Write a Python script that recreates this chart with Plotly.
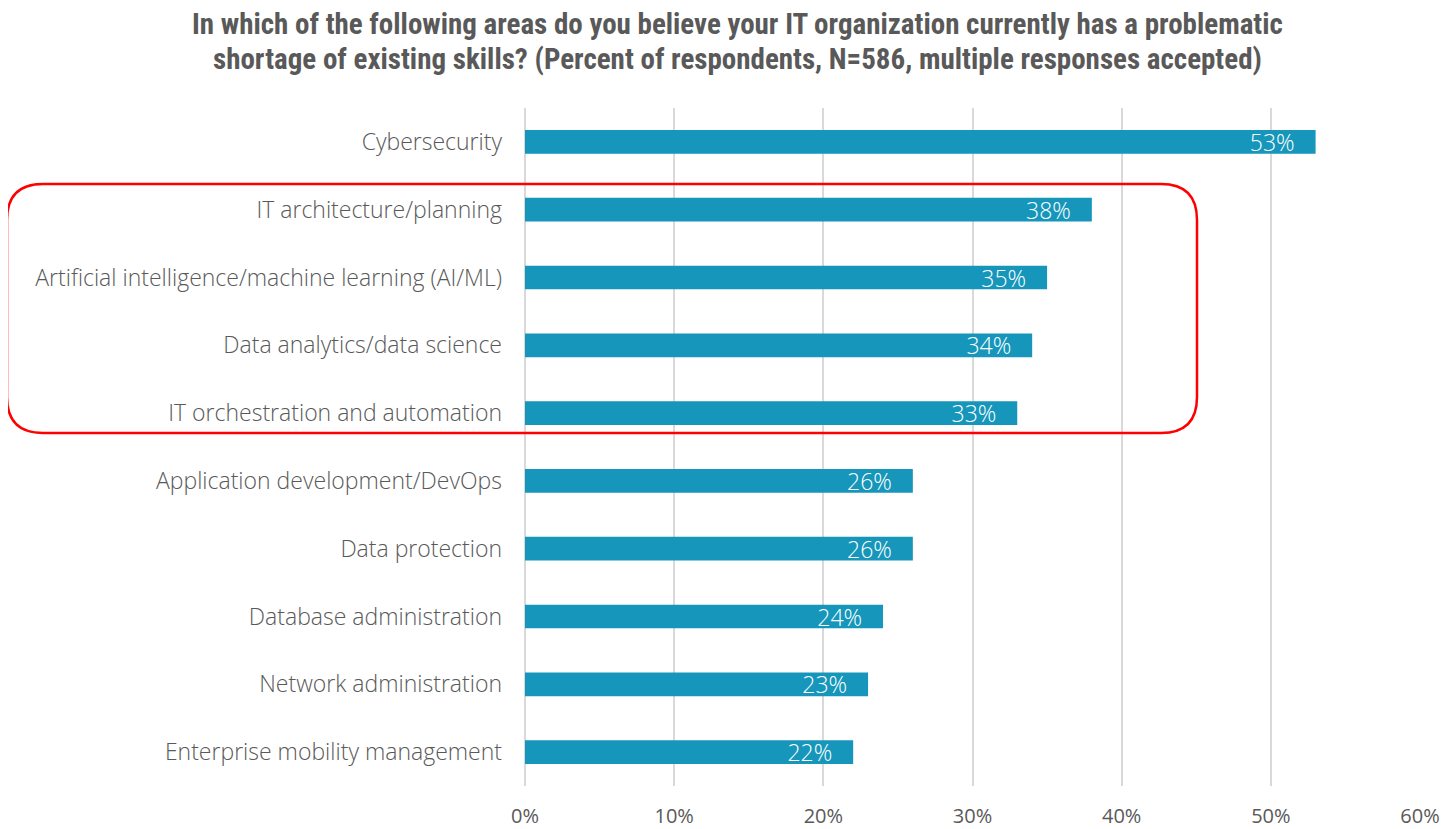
import plotly.graph_objects as go

categories = [
    "Cybersecurity",
    "IT architecture/planning",
    "Artificial intelligence/machine learning (AI/ML)",
    "Data analytics/data science",
    "IT orchestration and automation",
    "Application development/DevOps",
    "Data protection",
    "Database administration",
    "Network administration",
    "Enterprise mobility management",
]
values = [53, 38, 35, 34, 33, 26, 26, 24, 23, 22]
tick_vals = [0, 10, 20, 30, 40, 50, 60]
tick_text = ["0%", "10%", "20%", "30%", "40%", "50%", "60%"]
title_lines = [
    "In which of the following areas do you believe your IT organization currently has a problematic",
    "shortage of existing skills? (Percent of respondents, N=586, multiple responses accepted)",
]

# page places the figure 8px in from the top-left (body margin)
OFF = 8
VW, VH = 1455, 829
PL, PR, PT, PB = 525, 1420, 108, 786   # plot area in page pixels
W, H = VW - OFF, VH - OFF
ML, MT = PL - OFF, PT - OFF
MR, MB = VW - PR, VH - PB
PW, PH = PR - PL, PB - PT

fig = go.Figure()
fig.add_trace(go.Bar(
    y=categories, x=values, orientation="h",
    marker=dict(color="#1596BA", line=dict(width=0)),
    width=0.35,
    text=[f"{v}%\u00a0\u00a0\u00a0" for v in values],
    textposition="inside", insidetextanchor="end",
    constraintext="none",
    textfont=dict(color="white", size=23, family="Open Sans", weight=300),
    hoverinfo="skip",
))

# rounded rectangle highlight (page pixel -> paper)
def px_x(p): return (p - PL) / PW
def px_y(p): return (PB - p) / PH
L, R, T, B, r = 7, 1197, 184, 433, 36
path = (
    f"M {px_x(L + r)} {px_y(T)} L {px_x(R - r)} {px_y(T)} "
    f"Q {px_x(R)} {px_y(T)} {px_x(R)} {px_y(T + r)} "
    f"L {px_x(R)} {px_y(B - r)} "
    f"Q {px_x(R)} {px_y(B)} {px_x(R - r)} {px_y(B)} "
    f"L {px_x(L + r)} {px_y(B)} "
    f"Q {px_x(L)} {px_y(B)} {px_x(L)} {px_y(B - r)} "
    f"L {px_x(L)} {px_y(T + r)} "
    f"Q {px_x(L)} {px_y(T)} {px_x(L + r)} {px_y(T)} Z"
)
fig.add_shape(type="path", path=path, xref="paper", yref="paper",
              line=dict(color="#FF0000", width=2.5), layer="above")

title_font = dict(family="Roboto Condensed, Liberation Sans Narrow, sans-serif",
                  size=29, color="#595959", weight="bold")
for i, line in enumerate(title_lines):
    fig.add_annotation(
        text=line, xref="paper", yref="paper",
        x=px_x(737), y=px_y(24 + 35 * i), xanchor="center", yanchor="middle",
        showarrow=False, font=title_font,
    )

fig.update_layout(
    width=W, height=H,
    margin=dict(l=ML, r=MR, t=MT, b=MB),
    plot_bgcolor="white", paper_bgcolor="white",
    showlegend=False,
    xaxis=dict(
        range=[0, 60], tickvals=tick_vals, ticktext=tick_text,
        showgrid=True, gridcolor="#D9D9D9", gridwidth=2,
        zeroline=True, zerolinecolor="#D9D9D9", zerolinewidth=2,
        showline=False, ticks="", automargin=False,
        tickfont=dict(family="Open Sans", size=20, color="#595959"),
        ticklabelstandoff=16,
        fixedrange=True,
    ),
    yaxis=dict(
        autorange="reversed", showgrid=False, showline=False, ticks="",
        automargin=False,
        tickfont=dict(family="Open Sans", size=23, color="#595959", weight=300),
        ticklabelstandoff=22,
    ),
)

fig.write_html("out.html")
